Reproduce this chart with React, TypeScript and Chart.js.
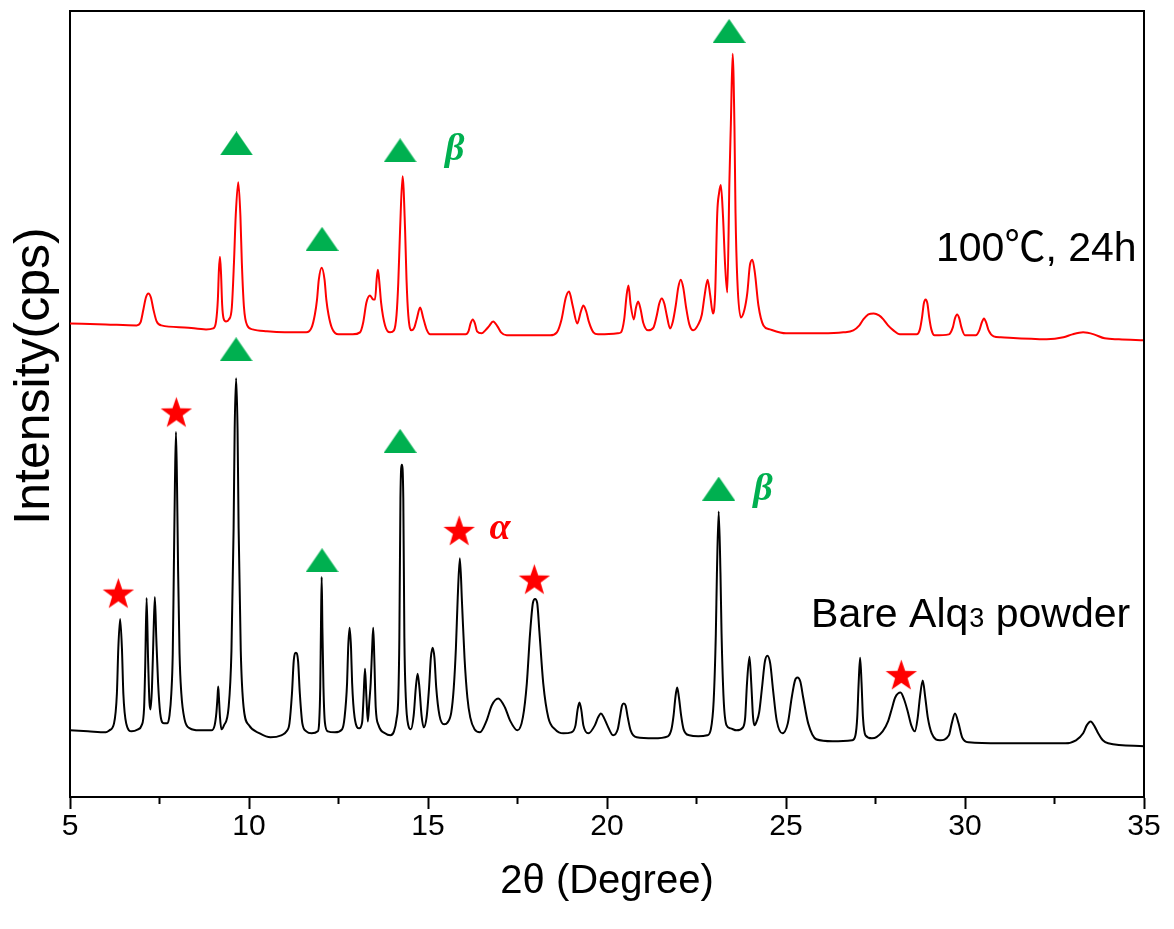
import React, { useEffect, useRef } from "react";
import { Chart, registerables } from "chart.js";

Chart.register(...registerables);

// ---- Data: Bare Alq3 powder (black) ----
const bareTheta = [
  5.0, 5.5, 6.0, 6.1, 6.23, 6.31, 6.35, 6.4, 6.45, 6.49, 6.57, 6.72,
  6.9, 7.0, 7.07, 7.1, 7.14, 7.18, 7.22, 7.25, 7.29, 7.33, 7.37, 7.41, 7.46, 7.52, 7.62,
  7.72, 7.78, 7.83, 7.87, 7.9, 7.93, 7.96, 7.99, 8.02, 8.06, 8.11, 8.2, 8.35, 8.6,
  8.95, 9.04, 9.09, 9.12, 9.14, 9.16, 9.19, 9.23,
  9.3, 9.43, 9.51, 9.57, 9.6, 9.64, 9.68, 9.71, 9.77, 9.85, 10.0, 10.3, 10.6, 10.9,
  11.05, 11.13, 11.2, 11.25, 11.31, 11.37, 11.42, 11.49, 11.6, 11.75,
  11.92, 11.96, 11.99, 12.01, 12.03, 12.05, 12.08, 12.12, 12.2, 12.4,
  12.6, 12.67, 12.74, 12.77, 12.81, 12.85, 12.88, 12.95, 13.08,
  13.16, 13.2, 13.24, 13.28, 13.32, 13.36, 13.4, 13.44, 13.47, 13.5, 13.54, 13.62, 13.8, 13.95,
  14.05, 14.12, 14.17, 14.2, 14.23, 14.27, 14.31, 14.34, 14.38, 14.45,
  14.52, 14.6, 14.66, 14.71, 14.76, 14.82, 14.88,
  14.96, 15.03, 15.08, 15.13, 15.18, 15.23, 15.32, 15.45,
  15.55, 15.65, 15.72, 15.78, 15.83, 15.89, 15.95, 16.02, 16.1, 16.18, 16.3, 16.45,
  16.64, 16.78, 16.96, 17.15, 17.29, 17.5,
  17.65, 17.76, 17.85, 17.93, 17.99, 18.05, 18.11, 18.22, 18.36, 18.55, 18.78,
  19.0, 19.12, 19.18, 19.23, 19.28, 19.34, 19.48,
  19.66, 19.75, 19.83, 19.91, 20.01, 20.17,
  20.3, 20.36, 20.42, 20.47, 20.52, 20.58, 20.66, 20.83, 21.3, 21.7,
  21.8, 21.86, 21.91, 21.96, 22.01, 22.07, 22.14, 22.3, 22.55, 22.8,
  22.9, 22.98, 23.04, 23.07, 23.12, 23.17, 23.2, 23.26, 23.34, 23.45, 23.62,
  23.8, 23.86, 23.91, 23.98, 24.03, 24.08, 24.12,
  24.18, 24.25, 24.33, 24.41, 24.48, 24.56, 24.64, 24.74, 24.9,
  25.05, 25.16, 25.25, 25.32, 25.4, 25.48, 25.62, 25.85, 26.3,
  26.85, 26.94, 26.99, 27.03, 27.07, 27.11, 27.15, 27.22, 27.4,
  27.7, 27.85, 27.95, 28.05, 28.2, 28.3, 28.4, 28.5, 28.6,
  28.68, 28.74, 28.82, 28.89, 28.96, 29.07, 29.3,
  29.55, 29.63, 29.72, 29.82, 29.92, 30.1, 31.0, 32.0, 32.8,
  33.1, 33.3, 33.4, 33.51, 33.62, 33.72, 33.85, 34.0, 35.0,
];
const bareIntensity = [
  67, 66, 65, 67, 74, 104, 150, 179, 150, 104, 74, 66,
  68, 72, 90, 130, 200, 140, 95, 88, 110, 160, 201, 160, 115, 84, 74,
  74, 82, 104, 144, 227, 312, 367, 312, 227, 144, 104, 78, 69, 67,
  67, 72, 85, 100, 111, 100, 80, 68,
  72, 90, 147, 270, 370, 421, 370, 270, 147, 90, 72, 64, 60, 62,
  66, 74, 104, 137, 145, 137, 104, 74, 66, 64,
  66, 75, 110, 170, 221, 170, 110, 75, 66, 65,
  68, 80, 115, 150, 170, 150, 115, 80, 69,
  75, 100, 129, 100, 76, 95, 115, 150, 170, 140, 90, 72, 64, 62,
  66, 78, 100, 160, 300, 334, 300, 160, 100, 72,
  68, 82, 110, 124, 110, 82, 70,
  80, 110, 140, 150, 140, 110, 82, 73,
  75, 85, 110, 150, 200, 240, 195, 140, 100, 80, 68, 65,
  77, 92, 99, 90, 77, 67,
  80, 114, 164, 195, 199, 195, 167, 114, 80, 68, 64,
  65, 72, 88, 95, 88, 72, 64,
  72, 80, 84, 80, 72, 62,
  68, 80, 92, 94, 92, 80, 67, 60, 59, 61,
  68, 82, 100, 110, 100, 82, 68, 62, 61, 62,
  68, 97, 164, 224, 287, 224, 164, 97, 72, 69, 67,
  70, 80, 114, 141, 114, 80, 72,
  76, 85, 110, 136, 142, 134, 107, 77, 64,
  74, 100, 117, 120, 116, 100, 74, 58, 56,
  57, 62, 80, 115, 140, 115, 80, 62, 59,
  66, 76, 88, 100, 105, 98, 86, 72, 66,
  80, 100, 117, 100, 80, 64, 57,
  62, 74, 84, 74, 60, 55, 54, 54, 54,
  57, 64, 72, 76, 71, 64, 57, 54, 51,
];

// ---- Data: 100 °C, 24 h (red) ----
const heatedTheta = [
  5.0, 6.0, 6.86, 6.97, 7.05, 7.12, 7.19, 7.26, 7.33, 7.42, 7.55, 8.2, 8.8,
  9.0, 9.08, 9.13, 9.16, 9.19, 9.22, 9.25, 9.29, 9.36, 9.44,
  9.52, 9.58, 9.63, 9.7, 9.76, 9.8, 9.86, 9.95, 10.1, 10.5, 11.0, 11.6,
  11.75, 11.84, 11.9, 11.95, 12.03, 12.11, 12.16, 12.22, 12.32, 12.5, 12.9,
  13.1, 13.19, 13.28, 13.38, 13.47, 13.52, 13.57, 13.6, 13.64, 13.69, 13.8, 13.94,
  14.05, 14.12, 14.17, 14.22, 14.29, 14.36, 14.4, 14.45, 14.54,
  14.62, 14.69, 14.78, 14.87, 14.96, 15.06, 15.5,
  16.05, 16.13, 16.19, 16.25, 16.31, 16.37, 16.5,
  16.6, 16.7, 16.82, 16.94, 17.04, 17.2, 17.8, 18.41,
  18.6, 18.73, 18.85, 18.94, 19.04, 19.17, 19.27, 19.34, 19.42, 19.49, 19.62, 19.75, 20.3,
  20.39, 20.48, 20.55, 20.6, 20.66, 20.75, 20.81, 20.87, 20.94, 21.01, 21.15,
  21.3, 21.39, 21.46, 21.53, 21.6, 21.67, 21.76,
  21.84, 21.92, 21.99, 22.06, 22.13, 22.21, 22.3, 22.41,
  22.55, 22.65, 22.73, 22.81, 22.88, 22.96,
  23.02, 23.08, 23.13, 23.18, 23.24, 23.3, 23.36,
  23.42, 23.46, 23.51, 23.56, 23.59, 23.64, 23.74,
  23.84, 23.92, 23.99, 24.06, 24.13, 24.23, 24.37, 24.55, 25.0, 26.0, 26.6,
  26.88, 27.05, 27.16, 27.3, 27.45, 27.6, 27.72, 27.85, 28.0, 28.18, 28.65,
  28.74, 28.8, 28.85, 28.9, 28.95, 29.0, 29.06, 29.15, 29.55,
  29.66, 29.72, 29.78, 29.84, 29.9, 30.0, 30.3,
  30.4, 30.47, 30.53, 30.59, 30.66, 30.8, 31.0, 32.28,
  32.75, 33.0, 33.3, 33.6, 33.9, 34.3, 35.0,
];
const heatedIntensity = [
  476, 475, 474, 477, 490, 502, 506, 502, 490, 478, 474, 472, 470,
  471, 478, 500, 530, 543, 525, 495, 481, 478, 480,
  492, 537, 585, 618, 584, 537, 492, 474, 470, 468, 467, 467,
  472, 485, 500, 520, 532, 520, 500, 485, 471, 465, 465,
  467, 477, 497, 504, 500, 500, 522, 530, 518, 497, 474, 467,
  469, 484, 517, 570, 624, 570, 520, 484, 469,
  472, 481, 492, 481, 470, 465, 465,
  465, 468, 476, 480, 476, 468, 466,
  469, 473, 478, 473, 467, 464, 464, 464,
  467, 480, 502, 508, 494, 476, 488, 494, 488, 478, 467, 465, 466,
  467, 480, 505, 514, 495, 480, 492, 498, 490, 477, 469,
  472, 484, 496, 501, 496, 484, 471,
  478, 494, 512, 520, 512, 492, 475, 469,
  475, 485, 505, 520, 505, 486,
  505, 587, 607, 615, 584, 534, 507,
  620, 677, 747, 674, 587, 520, 482,
  490, 507, 534, 540, 527, 494, 474, 470, 466, 466, 467,
  469, 474, 480, 485, 486, 484, 480, 474, 469, 465, 465,
  470, 482, 496, 500, 496, 482, 470, 464, 465,
  472, 481, 485, 481, 472, 464, 464,
  469, 477, 481, 477, 469, 463, 462, 460,
  462, 465, 467, 465, 461, 460, 459,
];

// ---- Axis tick labels ----
const thetaTickLabels = [5, 10, 15, 20, 25, 30, 35];

// ---- Phase markers (green triangles = beta, red stars = alpha) ----
const triangleTheta = [23.41, 9.65, 12.04, 14.22, 9.64, 12.04, 14.22, 23.12];
const triangleIntensity = [770, 657, 561, 650, 450, 238, 358, 310];
const starTheta = [6.35, 7.97, 15.87, 17.97, 28.22];
const starIntensity = [205, 387, 268, 219, 123];
const phaseSymbols = ["β", "β", "α"];
const phaseTheta = [15.75, 24.36, 17.01];
const phaseIntensity = [650, 308, 269];

// ---- Sample labels ----
const sampleNames = ["100℃, 24h", "Bare Alq₃ powder"];
const sampleNameTheta = [29.19, 25.7];
const sampleNameIntensity = [539, 171];

const GREEN = "#00b050";
const RED = "#ff0000";
const SANS = "'Liberation Sans', Arial, 'Noto Sans CJK SC', sans-serif";

function makeStar(R: number, color: string): HTMLCanvasElement {
  const size = Math.ceil(R * 2 + 2);
  const c = document.createElement("canvas");
  c.width = size;
  c.height = size;
  const g = c.getContext("2d")!;
  const cx = size / 2;
  const cy = size / 2 + 0.0955 * R;
  const r = R * 0.4;
  g.beginPath();
  for (let i = 0; i < 10; i++) {
    const rad = i % 2 === 0 ? R : r;
    const a = -Math.PI / 2 + (i * Math.PI) / 5;
    g.lineTo(cx + rad * Math.cos(a), cy + rad * Math.sin(a));
  }
  g.closePath();
  g.fillStyle = color;
  g.fill();
  return c;
}

function makeTriangle(w: number, h: number, color: string): HTMLCanvasElement {
  const c = document.createElement("canvas");
  c.width = w;
  c.height = h;
  const g = c.getContext("2d")!;
  g.beginPath();
  g.moveTo(0, h);
  g.lineTo(w, h);
  g.lineTo(w / 2, 0);
  g.closePath();
  g.fillStyle = color;
  g.fill();
  return c;
}

const toPoints = (xs: number[], ys: number[]) => xs.map((x, i) => ({ x, y: ys[i] }));

const decorPlugin = {
  id: "decor",
  afterDraw(chart: any) {
    const { ctx, chartArea, scales } = chart;
    const xs = scales.x;
    const ys = scales.y;
    ctx.save();
    // top and right frame
    ctx.strokeStyle = "#000";
    ctx.lineWidth = 2;
    ctx.beginPath();
    ctx.moveTo(chartArea.left, chartArea.top);
    ctx.lineTo(chartArea.right, chartArea.top);
    ctx.lineTo(chartArea.right, chartArea.bottom);
    ctx.stroke();
    // minor ticks
    for (const t of xs.ticks) {
      if (thetaTickLabels.includes(t.value)) continue;
      const px = xs.getPixelForValue(t.value);
      ctx.beginPath();
      ctx.moveTo(px, chartArea.bottom);
      ctx.lineTo(px, chartArea.bottom + 7);
      ctx.stroke();
    }
    // y title
    ctx.save();
    ctx.translate(chartArea.left - 35, 376);
    ctx.rotate(-Math.PI / 2);
    ctx.fillStyle = "#000";
    ctx.font = `50px ${SANS}`;
    ctx.textAlign = "center";
    ctx.textBaseline = "middle";
    ctx.fillText("Intensity(cps)", 0, 0);
    ctx.restore();
    // phase symbols
    ctx.font = `bold italic 38px 'Liberation Serif', 'DejaVu Serif', serif`;
    ctx.textAlign = "center";
    ctx.textBaseline = "middle";
    phaseSymbols.forEach((s, i) => {
      ctx.fillStyle = s === "α" ? RED : GREEN;
      ctx.fillText(s, xs.getPixelForValue(phaseTheta[i]), ys.getPixelForValue(phaseIntensity[i]));
    });
    // sample names
    ctx.fillStyle = "#000";
    ctx.textAlign = "left";
    ctx.textBaseline = "alphabetic";
    sampleNames.forEach((name, i) => {
      let x = xs.getPixelForValue(sampleNameTheta[i]);
      const y = ys.getPixelForValue(sampleNameIntensity[i]);
      const parts = name.split("₃");
      parts.forEach((p, j) => {
        ctx.font = `41px ${SANS}`;
        ctx.fillText(p, x, y);
        x += ctx.measureText(p).width;
        if (j < parts.length - 1) {
          ctx.font = `27px ${SANS}`;
          ctx.fillText("3", x + 1, y);
          x += ctx.measureText("3").width + 1;
        }
      });
    });
    ctx.restore();
  },
};

export default function App() {
  const canvasRef = useRef<HTMLCanvasElement | null>(null);

  useEffect(() => {
    const canvas = canvasRef.current;
    if (!canvas) return;
    const star = makeStar(16.5, RED);
    const tri = makeTriangle(33, 24, GREEN);
    const chart = new Chart(canvas, {
      type: "line",
      data: {
        datasets: [
          {
            label: "100℃, 24h",
            data: toPoints(heatedTheta, heatedIntensity),
            borderColor: RED,
            borderWidth: 2,
            pointRadius: 0,
            fill: false,
            cubicInterpolationMode: "monotone",
          },
          {
            label: "Bare Alq3 powder",
            data: toPoints(bareTheta, bareIntensity),
            borderColor: "#000",
            borderWidth: 2,
            pointRadius: 0,
            fill: false,
            cubicInterpolationMode: "monotone",
          },
          {
            type: "scatter",
            label: "β phase",
            data: toPoints(triangleTheta, triangleIntensity),
            pointStyle: tri,
            pointRadius: 10,
          } as any,
          {
            type: "scatter",
            label: "α phase",
            data: toPoints(starTheta, starIntensity),
            pointStyle: star,
            pointRadius: 10,
          } as any,
        ],
      },
      options: {
        responsive: false,
        animation: false,
        devicePixelRatio: 1,
        layout: { padding: { top: 7, right: 30, bottom: 0, left: 0 } },
        plugins: { legend: { display: false }, tooltip: { enabled: false } },
        scales: {
          x: {
            type: "linear",
            min: 5,
            max: 35,
            afterFit: (s: any) => {
              s.height = 132;
            },
            border: { display: true, color: "#000", width: 2 },
            grid: {
              display: true,
              drawOnChartArea: false,
              drawTicks: true,
              tickLength: 12,
              tickWidth: 2,
              tickColor: (c: any) =>
                c.tick && thetaTickLabels.includes(c.tick.value) ? "#000" : "rgba(0,0,0,0)",
            },
            ticks: {
              stepSize: 2.5,
              autoSkip: false,
              maxRotation: 0,
              padding: 0,
              color: "#000",
              font: { family: SANS, size: 30 },
              callback: (v: any) => (thetaTickLabels.includes(Number(v)) ? String(v) : ""),
            },
            title: {
              display: true,
              text: "2θ (Degree)",
              color: "#000",
              font: { family: SANS, size: 40 },
              padding: { top: 0, bottom: 23 },
            },
          },
          y: {
            type: "linear",
            min: 0,
            max: 790,
            afterFit: (s: any) => {
              s.width = 70;
            },
            border: { display: true, color: "#000", width: 2 },
            grid: { display: false },
            ticks: { display: false },
          },
        },
      },
      plugins: [decorPlugin],
    });
    return () => chart.destroy();
  }, []);

  return (
    <div style={{ position: "fixed", left: 0, top: 0, width: 1174, height: 929, background: "#fff" }}>
      <canvas ref={canvasRef} width={1174} height={929} />
    </div>
  );
}
